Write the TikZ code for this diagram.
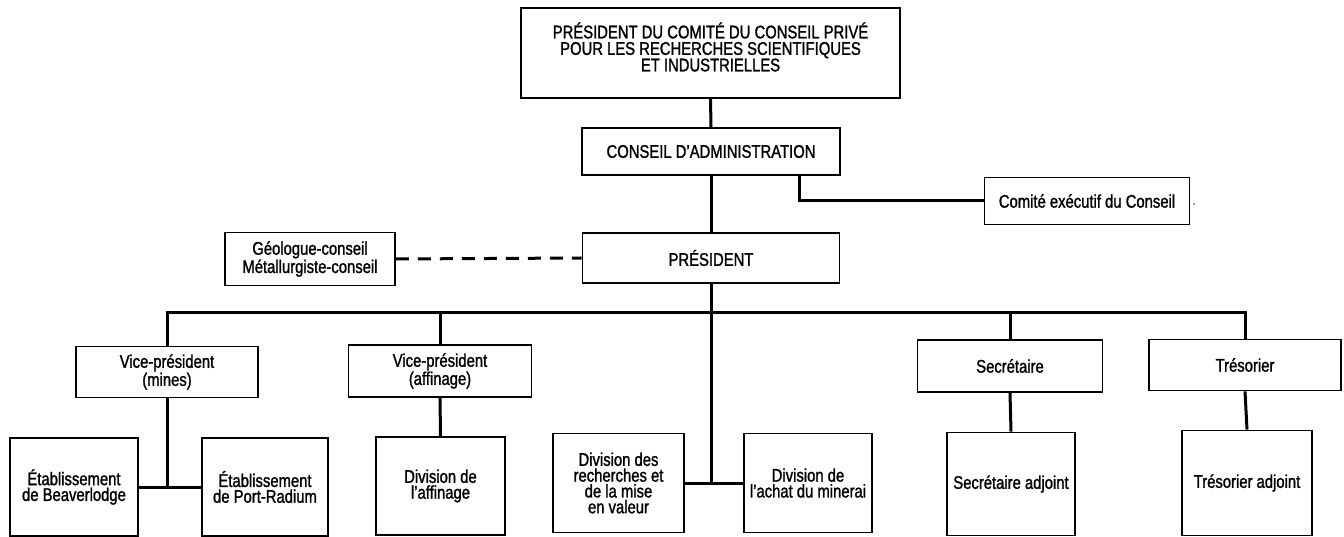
\documentclass[tikz,border=0pt]{standalone}
\usepackage{fontspec}
\setmainfont{Liberation Sans}[FakeStretch=0.81,FakeBold=1.3]
\begin{document}
\begin{tikzpicture}[x=1pt,y=-1pt,
  box/.style={draw, line width=1.7pt, align=center, inner sep=2pt,
    font=\fontsize{18.3}{15.8}\selectfont},
  txt/.style={align=center, inner sep=0pt, font=\fontsize{18.3}{16.5}\selectfont},
  conn/.style={line width=3pt},
  advisory/.style={line width=3pt, dash pattern=on 13pt off 9pt},
]
\fill[white] (0,0) rectangle (1344,537);
\useasboundingbox (0,0) rectangle (1344,537);

% Top levels
\node[box, minimum width=379pt, minimum height=90pt] (top) at (710.5,53) {};
\node[txt] (toptext) at (710.5,47)
  {PRÉSIDENT DU COMITÉ DU CONSEIL PRIVÉ\\POUR LES RECHERCHES SCIENTIFIQUES\\ET INDUSTRIELLES};
\node[box, minimum width=258pt, minimum height=47pt] (conseil) at (711,151.5)
  {CONSEIL D'ADMINISTRATION};
\node[box, minimum width=205pt, minimum height=47pt] (comite) at (1087,201)
  {Comité exécutif du Conseil};
\node (dot) at (1194,204) {.};
\node[box, minimum width=257pt, minimum height=50pt] (pres) at (711,258)
  {PRÉSIDENT};
\node[box, minimum width=170pt, minimum height=53pt] (geo) at (310,259)
  {Géologue-conseil\\Métallurgiste-conseil};

% Second row
\node[box, minimum width=182pt, minimum height=51pt] (vpm) at (167,372)
  {Vice-président\\(mines)};
\node[box, minimum width=183pt, minimum height=52pt] (vpa) at (440,371)
  {Vice-président\\(affinage)};
\node[box, minimum width=185pt, minimum height=52pt] (secr) at (1010,366)
  {Secrétaire};
\node[box, minimum width=192pt, minimum height=51pt] (treso) at (1245,365)
  {Trésorier};

% Third row
\node[box, minimum width=128pt, minimum height=98pt] (beaver) at (74,487)
  {Établissement\\de Beaverlodge};
\node[box, minimum width=126pt, minimum height=98pt] (portr) at (265,487)
  {Établissement\\de Port-Radium};
\node[box, minimum width=129pt, minimum height=98pt] (divaff) at (440.5,486)
  {Division de\\l'affinage};
\node[box, minimum width=131pt, minimum height=99pt] (rech) at (618.5,483)
  {Division des\\recherches et\\de la mise\\en valeur};
\node[box, minimum width=128pt, minimum height=99pt] (achat) at (808,483)
  {Division de\\l'achat du minerai};
\node[box, minimum width=128pt, minimum height=103pt] (secradj) at (1011,484)
  {Secrétaire adjoint};
\node[box, minimum width=130pt, minimum height=105pt] (tresadj) at (1247,483)
  {Trésorier adjoint};

% Connectors
\coordinate (bus) at (711,313);
\coordinate (cbend) at (799,0);
\draw[conn] (top.south) -- (conseil.north);
\draw[conn] (conseil.south) -- (pres.north);
\draw[conn] (conseil.south -| cbend) |- (comite.west);
\draw[advisory] (geo.east) -- (pres.west);
\draw[conn] (pres.south) -- (pres.south |- rech.east);
\draw[conn] (rech.east) -- (achat.west);
\draw[conn] (vpm.north) |- (bus) -| (treso.north);
\draw[conn] (vpa.north) -- (vpa.north |- bus);
\draw[conn] (secr.north) -- (secr.north |- bus);
\draw[conn] (vpm.south) -- (vpm.south |- beaver.east);
\draw[conn] (beaver.east) -- (portr.west);
\draw[conn] (vpa.south) -- (divaff.north);
\draw[conn] (secr.south) -- (secradj.north);
\draw[conn] (treso.south) -- (tresadj.north);
\end{tikzpicture}
\end{document}
